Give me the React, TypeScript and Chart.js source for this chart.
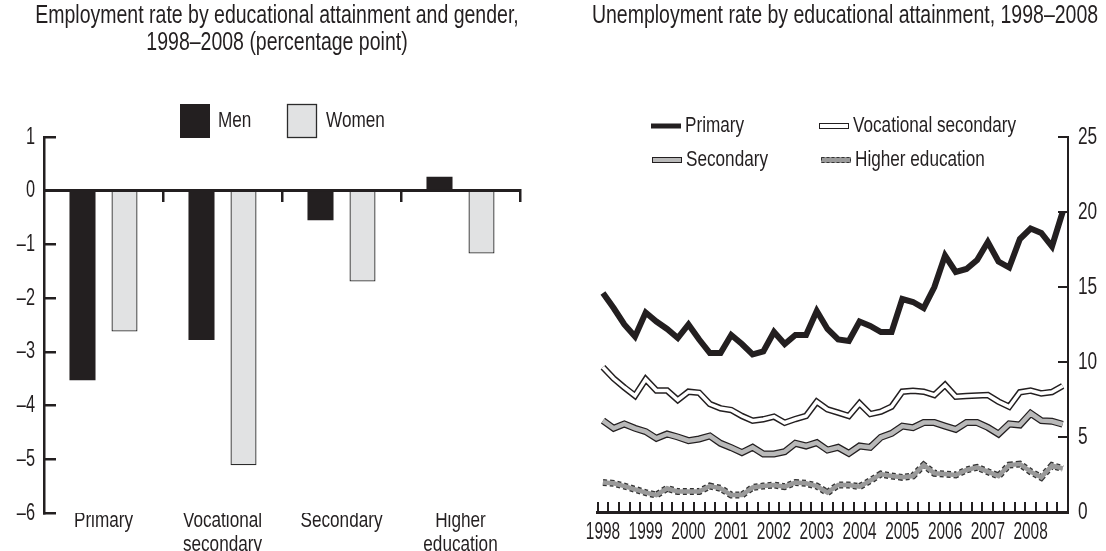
import React, { useEffect, useRef } from "react";
import { Chart, registerables } from "chart.js";

Chart.register(...registerables);

const FONT_FAMILY = "'Liberation Sans', Arial, 'DejaVu Sans', sans-serif";
const INK = "#231f20";
const TEXT_SQUEEZE = 0.78;
const DIGIT_SQUEEZE = 0.68;
const YEAR_SQUEEZE = 0.67;

// ---------- Left panel data ----------
const barTitle = ["Employment rate by educational attainment and gender,", "1998\u20132008 (percentage point)"];
const barCategories = [["Primary"], ["Vocational", "secondary"], ["Secondary"], ["Higher", "education"]];
const barSeriesNames = ["Men", "Women"];
const menValues = [-3.53, -2.78, -0.55, 0.26];
const womenValues = [-2.62, -5.11, -1.69, -1.17];
const barAxisMin = -6;
const barAxisMax = 1;
const barAxisStep = 1;

// ---------- Right panel data ----------
const lineTitle = "Unemployment rate by educational attainment, 1998\u20132008";
const years = ["1998", "1999", "2000", "2001", "2002", "2003", "2004", "2005", "2006", "2007", "2008"];
const quarterNames = ["Q1", "Q2", "Q3", "Q4"];
const quarterLabels = years.flatMap((y) => quarterNames.map((q) => `${y} ${q}`));
const lineSeriesNames = ["Primary", "Vocational secondary", "Secondary", "Higher education"];
const primaryValues = [
  14.6, 13.6, 12.5, 11.7, 13.3, 12.7, 12.2, 11.6, 12.5, 11.5, 10.6, 10.6,
  11.8, 11.2, 10.5, 10.7, 12.0, 11.2, 11.8, 11.8, 13.4, 12.2, 11.5, 11.4,
  12.7, 12.4, 12.0, 12.0, 14.2, 14.0, 13.6, 15.0, 17.1, 16.0, 16.2, 16.8,
  18.0, 16.7, 16.3, 18.2, 18.9, 18.6, 17.7, 20.0,
];
const vocationalValues = [
  9.65, 8.9, 8.3, 7.75, 8.85, 8.1, 8.1, 7.47, 8.02, 7.95, 7.2, 6.91,
  6.8, 6.4, 6.09, 6.18, 6.36, 5.95, 6.2, 6.4, 7.35, 6.84, 6.62, 6.4,
  7.24, 6.53, 6.69, 7.02, 8.02, 8.09, 8.02, 7.8, 8.47, 7.69, 7.73, 7.76,
  7.8, 7.36, 7.02, 7.98, 8.09, 7.91, 8.0, 8.4,
];
const secondaryValues = [
  6.09, 5.58, 5.87, 5.58, 5.36, 4.91, 5.2, 5.0, 4.76, 4.87, 5.07, 4.58,
  4.29, 3.96, 4.31, 3.87, 3.87, 4.02, 4.58, 4.4, 4.62, 4.13, 4.31, 3.91,
  4.4, 4.31, 4.98, 5.24, 5.73, 5.62, 5.96, 5.96, 5.73, 5.51, 5.96, 5.96,
  5.64, 5.2, 5.87, 5.8, 6.58, 6.09, 6.05, 5.85,
];
const higherValues = [
  1.96, 1.91, 1.73, 1.51, 1.29, 1.13, 1.58, 1.36, 1.36, 1.36, 1.73, 1.58,
  1.13, 1.13, 1.64, 1.73, 1.8, 1.69, 1.96, 1.91, 1.73, 1.29, 1.8, 1.8,
  1.69, 2.09, 2.53, 2.4, 2.31, 2.4, 3.13, 2.58, 2.53, 2.47, 2.8, 2.98,
  2.69, 2.4, 3.13, 3.2, 2.69, 2.31, 3.1, 2.9,
];
const lineAxisMin = 0;
const lineAxisMax = 25;
const lineAxisStep = 5;

const font = (size: number, lineHeight = 1.2) => ({ family: FONT_FAMILY, size, weight: "normal" as const, lineHeight });

function drawCondensed(
  ctx: CanvasRenderingContext2D,
  text: string,
  x: number,
  y: number,
  size: number,
  squeeze: number,
  align: CanvasTextAlign
) {
  ctx.font = `${size}px ${FONT_FAMILY}`;
  ctx.textAlign = align;
  ctx.textBaseline = "middle";
  ctx.fillStyle = INK;
  const w = ctx.measureText(text).width;
  ctx.fillText(text, x, y, Math.max(1, w * squeeze));
}

// Squeezes the library's own tick labels so they look like the condensed face of the original.
const condenseTicksPlugin = {
  id: "condenseTicks",
  beforeDraw(chart: any, _args: any, opts: any) {
    const ctx = chart.ctx as CanvasRenderingContext2D;
    Object.keys(chart.scales).forEach((id) => {
      const f = opts && opts[id];
      if (!f) return;
      const scale = chart.scales[id];
      const items = scale.getLabelItems(chart.chartArea);
      const out: any[] = [];
      items.forEach((it: any) => {
        const lines = Array.isArray(it.label) ? it.label : [it.label];
        ctx.save();
        ctx.font = it.font.string;
        lines.forEach((line: any, k: number) => {
          const text = String(line);
          const w = ctx.measureText(text).width;
          out.push({
            ...it,
            label: text,
            textOffset: it.textOffset + k * it.font.lineHeight,
            options: { ...it.options, maxWidth: Math.max(1, w * f) },
          });
        });
        ctx.restore();
      });
      scale._labelItems = out;
    });
  },
};

const barTextPlugin = {
  id: "barText",
  afterDraw(chart: any) {
    const ctx = chart.ctx as CanvasRenderingContext2D;
    ctx.save();
    drawCondensed(ctx, barTitle[0], 277, 16, 25, TEXT_SQUEEZE, "center");
    drawCondensed(ctx, barTitle[1], 277, 43, 25, TEXT_SQUEEZE, "center");
    const spots = [
      { bx: 180, tx: 218 },
      { bx: 287, tx: 326 },
    ];
    const top = 104;
    const bw = 30;
    const bh = 34;
    chart.data.datasets.forEach((ds: any, i: number) => {
      const s = spots[i];
      ctx.fillStyle = ds.backgroundColor;
      ctx.fillRect(s.bx, top, bw, bh);
      if (ds.borderWidth) {
        ctx.lineWidth = 1.3;
        ctx.strokeStyle = ds.borderColor;
        ctx.strokeRect(s.bx + 0.5, top + 0.5, bw - 1, bh - 1);
      }
      drawCondensed(ctx, ds.label, s.tx, top + bh / 2, 22, TEXT_SQUEEZE, "left");
    });
    ctx.restore();
  },
};

const lineLegendStyles = [
  { fill: INK, stroke: null as string | null, dash: [] as number[], h: 5 },
  { fill: "#ffffff", stroke: INK, dash: [] as number[], h: 6 },
  { fill: "#b9b9b9", stroke: INK, dash: [] as number[], h: 6 },
  { fill: "#9a9a9a", stroke: "#333333", dash: [3, 2], h: 6 },
];

const lineTextPlugin = {
  id: "lineText",
  afterDraw(chart: any) {
    const ctx = chart.ctx as CanvasRenderingContext2D;
    ctx.save();
    drawCondensed(ctx, lineTitle, 285, 16, 25, TEXT_SQUEEZE, "center");
    const spots = [
      { x: 91, y: 126 },
      { x: 259, y: 126 },
      { x: 92, y: 160 },
      { x: 261, y: 160 },
    ];
    lineSeriesNames.forEach((name, i) => {
      const s = spots[i];
      const st = lineLegendStyles[i];
      const w = 30;
      ctx.fillStyle = st.fill;
      ctx.fillRect(s.x, s.y - st.h / 2, w, st.h);
      if (st.stroke) {
        ctx.lineWidth = 1;
        ctx.strokeStyle = st.stroke;
        ctx.setLineDash(st.dash);
        ctx.strokeRect(s.x + 0.5, s.y - st.h / 2 + 0.5, w - 1, st.h - 1);
        ctx.setLineDash([]);
      }
      drawCondensed(ctx, name, s.x + w + 4, s.y, 22, TEXT_SQUEEZE, "left");
    });
    ctx.restore();
  },
};

const dashMinus = (v: any) => (Number(v) < 0 ? "\u2013" + Math.abs(Number(v)) : String(v));

function BarPanel() {
  const ref = useRef<HTMLCanvasElement>(null);
  useEffect(() => {
    const chart = new Chart(ref.current!, {
      type: "bar",
      data: {
        labels: barCategories as any,
        datasets: [
          {
            label: barSeriesNames[0],
            data: menValues,
            backgroundColor: INK,
            borderColor: INK,
            borderWidth: 0,
            categoryPercentage: 0.706,
            barPercentage: 0.62,
            xAxisID: "x",
            yAxisID: "y",
          },
          {
            label: barSeriesNames[1],
            data: womenValues,
            backgroundColor: "#e1e2e3",
            borderColor: "#2b2b2b",
            borderWidth: 1.3,
            categoryPercentage: 0.706,
            barPercentage: 0.62,
            xAxisID: "x",
            yAxisID: "y",
          },
        ],
      },
      options: {
        animation: false,
        responsive: false,
        maintainAspectRatio: false,
        layout: { padding: { left: 0, right: 40, top: 137, bottom: 0 } },
        plugins: {
          legend: { display: false },
          tooltip: { enabled: false },
          title: { display: false },
          condenseTicks: { x: TEXT_SQUEEZE, y: DIGIT_SQUEEZE },
        },
        scales: {
          x: {
            type: "category",
            position: "bottom",
            offset: true,
            grid: { display: false, offset: true },
            border: { display: false },
            ticks: { color: INK, font: font(22, 1.1), padding: -12, maxRotation: 0, autoSkip: false },
            afterFit: (s: any) => {
              s.height = 38;
            },
          },
          x2: {
            type: "category",
            position: { y: 0 } as any,
            offset: true,
            grid: {
              display: true,
              offset: true,
              drawOnChartArea: false,
              drawTicks: true,
              tickLength: 10,
              lineWidth: 2.5,
              color: (c: any) => (c.index === 0 ? "rgba(0,0,0,0)" : INK),
            },
            border: { display: true, color: INK, width: 3 },
            ticks: { display: false },
          },
          y: {
            type: "linear",
            position: "left",
            min: barAxisMin,
            max: barAxisMax,
            ticks: { stepSize: barAxisStep, color: INK, font: font(24), padding: 21, callback: dashMinus },
            grid: { display: true, drawOnChartArea: false, drawTicks: true, tickLength: -12, lineWidth: 2.5, color: INK },
            border: { display: true, color: INK, width: 2.5 },
            afterFit: (s: any) => {
              s.width = 44;
            },
          },
        },
      } as any,
      plugins: [condenseTicksPlugin, barTextPlugin],
    });
    return () => chart.destroy();
  }, []);
  return (
    <canvas
      ref={ref}
      width={560}
      height={551}
      style={{ position: "absolute", left: 0, top: 0, width: 560, height: 551 }}
    />
  );
}

function LinePanel() {
  const ref = useRef<HTMLCanvasElement>(null);
  useEffect(() => {
    const base = { pointRadius: 0, tension: 0, fill: false, borderJoinStyle: "miter" as const, borderCapStyle: "butt" as const };
    const chart = new Chart(ref.current!, {
      type: "line",
      data: {
        labels: quarterLabels,
        datasets: [
          { ...base, label: lineSeriesNames[0], data: primaryValues, borderColor: INK, borderWidth: 6, order: 0 },
          { ...base, label: lineSeriesNames[1], data: vocationalValues, borderColor: "#ffffff", borderWidth: 3.5, order: 1 },
          { ...base, label: lineSeriesNames[1] + " outline", data: vocationalValues, borderColor: INK, borderWidth: 6.5, order: 2 },
          { ...base, label: lineSeriesNames[2], data: secondaryValues, borderColor: "#b9b9b9", borderWidth: 4.5, order: 1 },
          { ...base, label: lineSeriesNames[2] + " outline", data: secondaryValues, borderColor: INK, borderWidth: 7, order: 2 },
          { ...base, label: lineSeriesNames[3], data: higherValues, borderColor: "#9a9a9a", borderWidth: 4.5, order: 1 },
          {
            ...base,
            label: lineSeriesNames[3] + " outline",
            data: higherValues,
            borderColor: "#333333",
            borderWidth: 7,
            borderDash: [4, 3],
            order: 2,
          },
        ],
      },
      options: {
        animation: false,
        responsive: false,
        maintainAspectRatio: false,
        layout: { padding: { left: 32, right: 0, top: 137, bottom: 0 } },
        plugins: {
          legend: { display: false },
          tooltip: { enabled: false },
          title: { display: false },
          condenseTicks: { x: YEAR_SQUEEZE, y: 0.72 },
        },
        scales: {
          x: {
            type: "category",
            position: "bottom",
            offset: true,
            grid: {
              display: true,
              offset: true,
              drawOnChartArea: false,
              drawTicks: true,
              tickLength: -10,
              lineWidth: 2,
              color: (c: any) => (c.type === "tick" ? INK : "rgba(0,0,0,0)"),
            },
            border: { display: true, color: INK, width: 3 },
            ticks: {
              color: INK,
              font: font(23),
              padding: 17,
              maxRotation: 0,
              autoSkip: false,
              callback: (_v: any, i: number) => (i % 4 === 0 ? years[i / 4] : ""),
            },
            afterFit: (s: any) => {
              s.height = 39;
            },
          },
          y: {
            type: "linear",
            position: "right",
            min: lineAxisMin,
            max: lineAxisMax,
            ticks: { stepSize: lineAxisStep, color: INK, font: font(24), padding: 20 },
            grid: { display: true, drawOnChartArea: false, drawTicks: true, tickLength: -10, lineWidth: 2, color: INK },
            border: { display: true, color: INK, width: 2 },
            afterFit: (s: any) => {
              s.width = 38;
            },
          },
        },
      } as any,
      plugins: [condenseTicksPlugin, lineTextPlugin],
    });
    return () => chart.destroy();
  }, []);
  return (
    <canvas
      ref={ref}
      width={546}
      height={551}
      style={{ position: "absolute", left: 560, top: 0, width: 546, height: 551 }}
    />
  );
}

export default function App() {
  return (
    <div style={{ position: "absolute", left: 0, top: 0, width: 1106, height: 551, background: "#ffffff", overflow: "hidden" }}>
      <BarPanel />
      <LinePanel />
    </div>
  );
}
